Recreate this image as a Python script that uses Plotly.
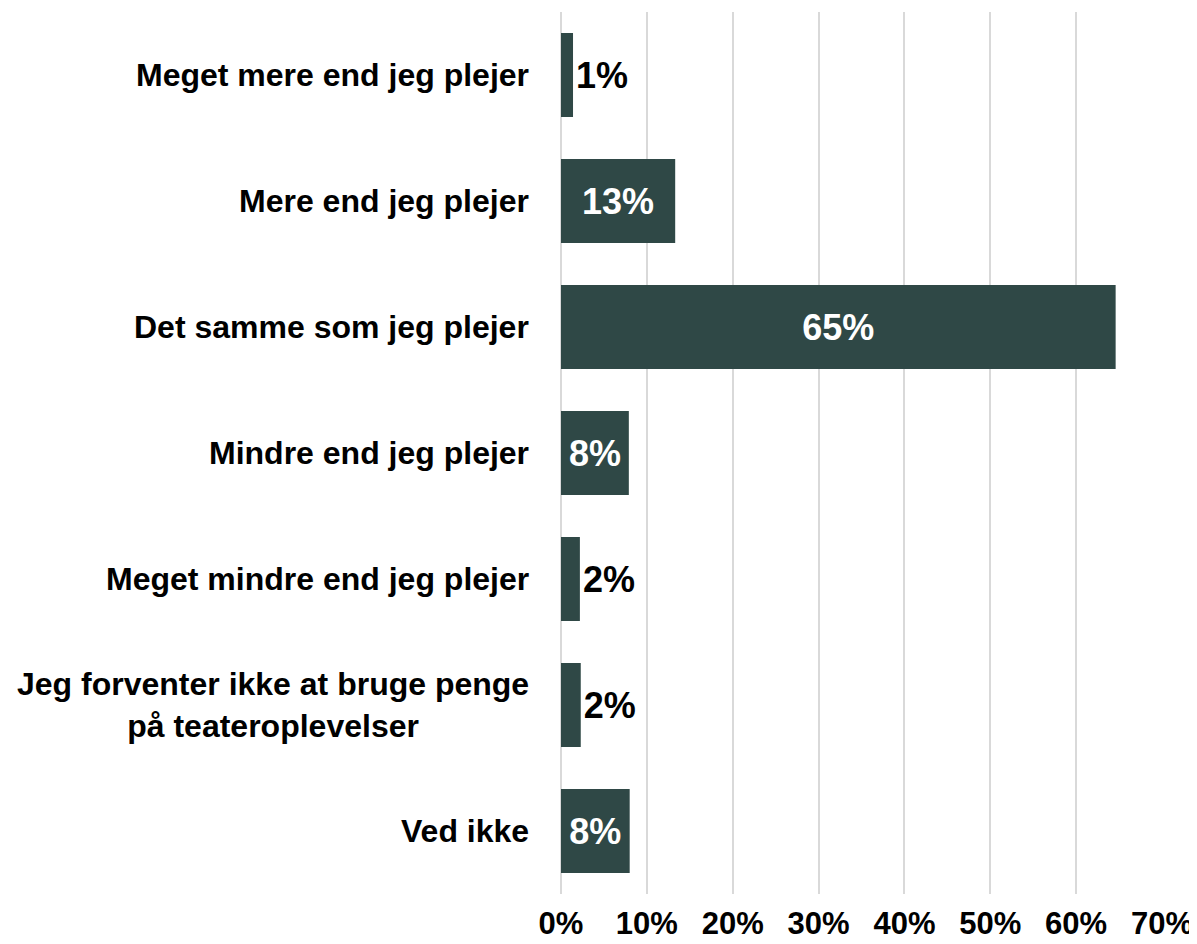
import plotly.graph_objects as go

categories = [
    "Meget mere end jeg plejer",
    "Mere end jeg plejer",
    "Det samme som jeg plejer",
    "Mindre end jeg plejer",
    "Meget mindre end jeg plejer",
    "Jeg forventer ikke at bruge penge<br>på teateroplevelser",
    "Ved ikke",
]
values = [0.014, 0.133, 0.646, 0.079, 0.022, 0.023, 0.080]
labels = ["1%", "13%", "65%", "8%", "2%", "2%", "8%"]
label_pos = ["outside", "inside", "inside", "inside", "outside", "outside", "inside"]
tick_vals = [0, 0.1, 0.2, 0.3, 0.4, 0.5, 0.6, 0.7]
tick_text = ["0%", "10%", "20%", "30%", "40%", "50%", "60%", "70%"]

FONT = "Arial, Liberation Sans, sans-serif"
BAR = "#2f4846"

fig = go.Figure()
fig.add_trace(go.Bar(
    x=values,
    y=categories,
    orientation="h",
    marker=dict(color=BAR, line=dict(width=0)),
    text=labels,
    texttemplate="<b>%{text}</b>",
    textposition=label_pos,
    insidetextanchor="middle",
    constraintext="none",
    cliponaxis=False,
    insidetextfont=dict(family=FONT, size=36, color="white"),
    outsidetextfont=dict(family=FONT, size=36, color="black"),
    hoverinfo="skip",
))

# category labels as centred annotations left of the axis
for c in categories:
    fig.add_annotation(
        x=0, xref="paper", y=c, yref="y",
        text="<b>" + c.replace("<br>", "</b><br><b>") + "</b>",
        showarrow=False, xanchor="right", align="center",
        xshift=-30,
        font=dict(family=FONT, size=32, color="black"),
    )

# page body has an 8px margin, so the figure is a bit smaller than the window
fig.update_layout(
    width=1189, height=936,
    margin=dict(l=553, r=35, t=4, b=50, autoexpand=False),
    plot_bgcolor="white", paper_bgcolor="white",
    bargap=0.333,
    showlegend=False,
    font=dict(family=FONT, color="black"),
)
fig.update_xaxes(
    range=[0, 0.7],
    tickvals=tick_vals,
    ticktext=["<b>%s</b>" % t for t in tick_text],
    tickfont=dict(family=FONT, size=31, color="black"),
    showgrid=True, gridcolor="#d9d9d9", gridwidth=2,
    zeroline=True, zerolinecolor="#d9d9d9", zerolinewidth=2,
    showline=False, automargin=False,
    ticks="", ticklabelstandoff=8,
    fixedrange=True,
)
fig.update_yaxes(
    autorange="reversed",
    showticklabels=False, automargin=False,
    showgrid=False, showline=False, ticks="",
    fixedrange=True,
)

fig.write_html("out.html")
